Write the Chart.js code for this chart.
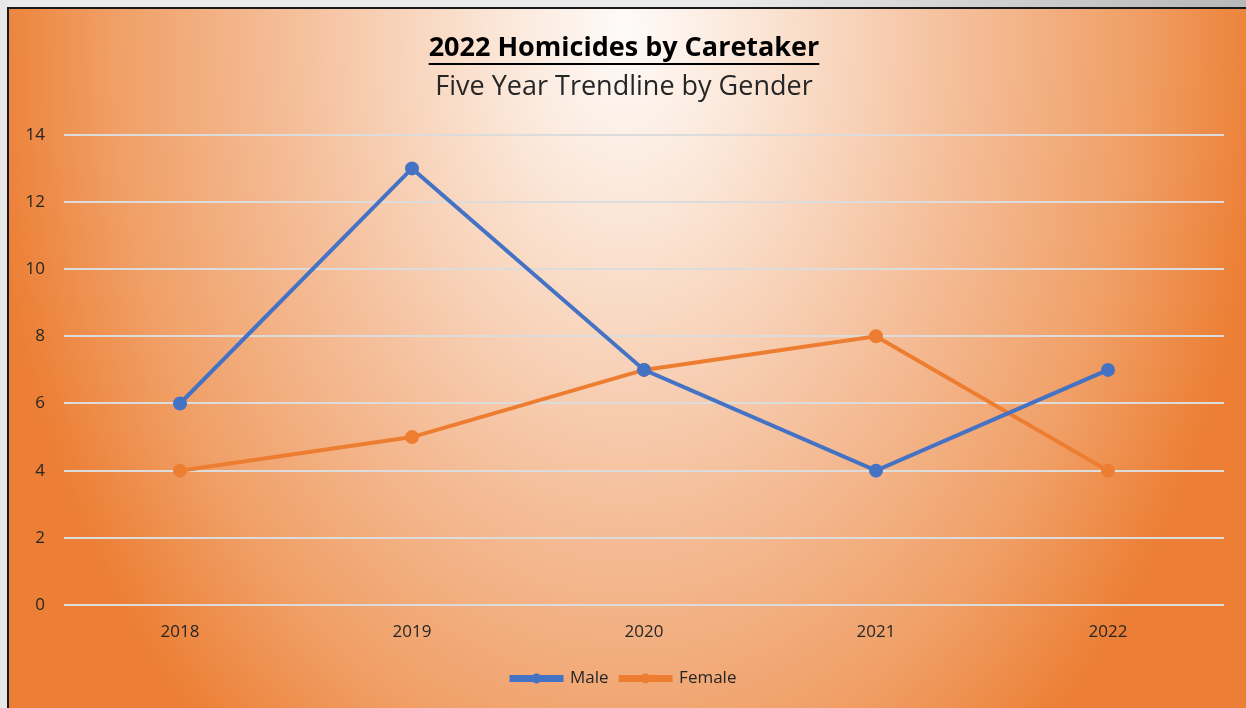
<!DOCTYPE html>
<html>
<head>
<title>2022 Homicides by Caretaker</title>
<script src="https://cdn.jsdelivr.net/npm/chart.js@4.4.0/dist/chart.umd.min.js"></script>
<style type="text/css">
html, body { margin: 0; padding: 0; background: #e8e8e8; overflow: hidden; }
#wrap { position: absolute; left: 0; top: 0; width: 1246px; height: 708px; }
</style>
</head>
<body>
<div id="wrap"><canvas id="chart" width="1246" height="708"></canvas></div>

<script type="text/javascript">

var years = ["2018", "2019", "2020", "2021", "2022"];
var maleCounts = [6, 13, 7, 4, 7];
var femaleCounts = [4, 5, 7, 8, 4];
var yTicks = [0, 2, 4, 6, 8, 10, 12, 14];

var FONT = "'Open Sans', 'DejaVu Sans', sans-serif";

// orange radial fill + black frame, like the office chart area
var backdrop = {
  id: 'backdrop',
  beforeDraw: function (chart) {
    var c = chart.ctx;
    var w = chart.width, h = chart.height;
    c.save();
    var g0 = c.createLinearGradient(700, 0, 1246, 0);
    g0.addColorStop(0, '#ececec');
    g0.addColorStop(1, '#b8b8b8');
    c.fillStyle = g0;
    c.fillRect(0, 0, w, 8);
    c.fillStyle = '#e8e8e8';
    c.fillRect(0, 0, 8, h);

    var sy = 1.45;
    c.translate(625, 30);
    c.scale(1, sy);
    var g = c.createRadialGradient(0, 0, 0, 0, 0, 640);
    g.addColorStop(0, '#fefbf9');
    g.addColorStop(0.2, '#fbe6d7');
    g.addColorStop(0.5, '#f5c19e');
    g.addColorStop(0.8, '#f09f66');
    g.addColorStop(1, '#ec7f35');
    c.fillStyle = g;
    c.fillRect(-625 + 9, (-30 + 9) / sy, w, h / sy);
    c.restore();

    c.save();
    c.strokeStyle = '#1a1a1a';
    c.lineWidth = 2;
    c.beginPath();
    c.moveTo(8, h + 2);
    c.lineTo(8, 8);
    c.lineTo(w + 2, 8);
    c.stroke();
    c.restore();
  },
  afterDraw: function (chart) {
    var c = chart.ctx;
    // underline for the title
    c.save();
    c.font = 'bold 27px ' + FONT;
    var tw = c.measureText(chart.options.plugins.title.text).width;
    var cx = (chart.titleBlock.left + chart.titleBlock.right) / 2;
    c.strokeStyle = '#000';
    c.lineWidth = 2;
    c.beginPath();
    c.moveTo(cx - tw / 2, 64);
    c.lineTo(cx + tw / 2, 64);
    c.stroke();
    c.restore();
    // dot in the middle of each legend line
    var lg = chart.legend;
    if (lg && lg.legendHitBoxes) {
      c.save();
      lg.legendHitBoxes.forEach(function (b, i) {
        c.fillStyle = chart.data.datasets[i].borderColor;
        c.beginPath();
        c.arc(b.left + 25, b.top + b.height / 2, 5, 0, Math.PI * 2);
        c.fill();
      });
      c.restore();
    }
  }
};

new Chart(document.getElementById('chart').getContext('2d'), {
  type: 'line',
  data: {
    labels: years,
    datasets: [
      {
        label: 'Male',
        data: maleCounts,
        borderColor: '#4472c4',
        backgroundColor: '#4472c4',
        borderWidth: 4,
        pointRadius: 5,
        pointHoverRadius: 5,
        tension: 0
      },
      {
        label: 'Female',
        data: femaleCounts,
        borderColor: '#ed7d31',
        backgroundColor: '#ed7d31',
        borderWidth: 4,
        pointRadius: 5,
        pointHoverRadius: 5,
        tension: 0
      }
    ]
  },
  options: {
    responsive: false,
    animation: false,
    layout: { padding: { left: 24, right: 22, top: 30, bottom: 11 } },
    plugins: {
      title: {
        display: true,
        text: '2022 Homicides by Caretaker',
        color: '#000',
        font: { family: FONT, size: 27, weight: 'bold' },
        padding: { top: 2, bottom: 7 }
      },
      subtitle: {
        display: true,
        text: 'Five Year Trendline by Gender',
        color: '#262626',
        font: { family: FONT, size: 27, weight: 'normal' },
        padding: { top: 0, bottom: 31 }
      },
      legend: {
        position: 'bottom',
        labels: {
          color: '#262626',
          font: { family: FONT, size: 17 },
          boxWidth: 50,
          boxHeight: 3,
          padding: 12
        }
      },
      tooltip: { enabled: false }
    },
    scales: {
      x: {
        offset: true,
        grid: { display: false },
        border: { display: false },
        afterFit: function (s) { s.height = 53; },
        ticks: { color: '#262626', font: { family: FONT, size: 17 }, padding: 9 }
      },
      y: {
        min: 0,
        max: 14,
        afterBuildTicks: function (s) { s.ticks = yTicks.map(function (v) { return { value: v }; }); },
        afterFit: function (s) { s.width = 40; },
        grid: { color: '#dcdcdc', lineWidth: 2, drawTicks: false },
        border: { display: false },
        ticks: { color: '#262626', font: { family: FONT, size: 17 }, padding: 19 }
      }
    }
  },
  plugins: [backdrop]
});

</script>
</body>
</html>
